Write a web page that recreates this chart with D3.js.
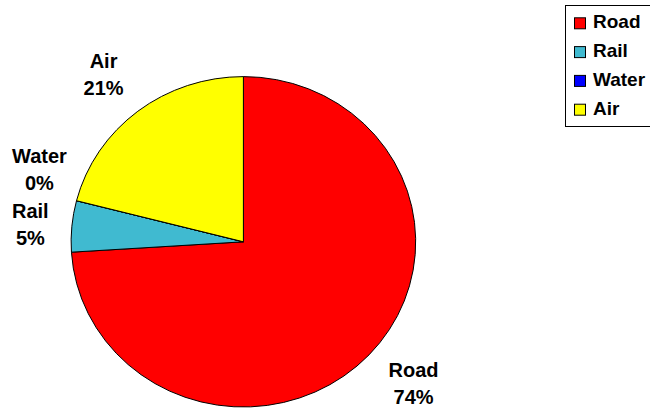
<!DOCTYPE html>
<html>
<head>
<meta charset="utf-8">
<script src="https://cdn.jsdelivr.net/npm/d3@7"></script>
<style>
  html, body { margin: 0; padding: 0; background: #fff; }
  svg { display: block; }
  text { font-family: "Liberation Sans", Arial, sans-serif; font-weight: bold; fill: #000; }
</style>
</head>
<body>
<svg id="chart" width="650" height="409"></svg>
<script>
// Share of freight by mode (percent)
const categories = ["Road", "Rail", "Water", "Air"];
const shares = [74, 5, 0, 21];
const colors = ["#FF0000", "#40BAD0", "#0000FF", "#FFFF00"];

const W = 650, H = 409;
const svg = d3.select("#chart");

// Pie geometry: slightly wider than tall
const cx = 243.4, cy = 241.8, rx = 172.3, ry = 165.2;

const pie = d3.pie().sort(null).value(d => d.value);
const arcs = pie(categories.map((c, i) => ({ name: c, value: shares[i], color: colors[i] })));
const arc = d3.arc().innerRadius(0).outerRadius(rx);

const pieG = svg.append("g")
  .attr("transform", `translate(${cx},${cy}) scale(1,${ry / rx})`);

pieG.selectAll("path")
  .data(arcs)
  .join("path")
  .attr("d", arc)
  .attr("fill", d => d.data.color)
  .attr("stroke", "#000")
  .attr("stroke-width", 1)
  .attr("vector-effect", "non-scaling-stroke")
  .attr("stroke-linejoin", "round");

// Data labels placed just outside the rim, along each slice's mid-angle
const fmt = v => d3.format(".0f")(v) + "%";
const labelFont = 20, lineGap = 27, capH = 14, edge = 12;
const clamp = v => Math.max(-1, Math.min(1, v));

const labelG = svg.append("g");
const labels = arcs.map(d => {
  const g = labelG.append("g");
  const t1 = g.append("text").attr("text-anchor", "middle").attr("font-size", labelFont).text(d.data.name);
  const t2 = g.append("text").attr("text-anchor", "middle").attr("font-size", labelFont).text(fmt(d.data.value));
  const w = Math.max(t1.node().getComputedTextLength(), t2.node().getComputedTextLength());
  const h = capH + lineGap;
  const a = (d.startAngle + d.endAngle) / 2;
  const s = Math.sin(a), c = Math.cos(a);
  const f = 1.1;
  const px = cx + rx * f * s, py = cy - ry * f * c;
  const lx = px + (w / 2 + 7) * clamp(s / 0.7);
  const ly = py + (h / 2) * clamp(-c / 0.7) + (Math.abs(c) > 0.3 ? -3 : 3);
  return { g, t1, t2, w, h, x: lx, y: ly, side: s < 0 ? -1 : 1 };
});

// Keep labels on the same side from overlapping: push upward when needed
[-1, 1].forEach(side => {
  const group = labels.filter(l => l.side === side).sort((a, b) => b.y - a.y);
  for (let i = 1; i < group.length; i++) {
    const lower = group[i - 1], cur = group[i];
    const minGap = (lower.h + cur.h) / 2 + 14;
    if (lower.y - cur.y < minGap) cur.y = lower.y - minGap;
  }
});

// Keep every label inside the drawing area
labels.forEach(l => {
  l.x = Math.max(l.w / 2 + edge, Math.min(W - l.w / 2 - edge, l.x));
  const top = l.y - l.h / 2;
  l.t1.attr("x", l.x).attr("y", top + capH);
  l.t2.attr("x", l.x).attr("y", top + capH + lineGap);
});

// Legend
const legend = svg.append("g");
const lgX = 565, lgY = 5, lgH = 121, rowH = 28.8;
legend.append("rect")
  .attr("x", lgX + 0.5).attr("y", lgY + 0.5)
  .attr("width", 120).attr("height", lgH)
  .attr("fill", "#fff").attr("stroke", "#000").attr("stroke-width", 1);

const rows = legend.selectAll("g.item")
  .data(categories.map((c, i) => ({ name: c, color: colors[i] })))
  .join("g")
  .attr("class", "item")
  .attr("transform", (d, i) => `translate(${lgX},${lgY + 23.3 + i * rowH})`);

rows.append("rect")
  .attr("x", 9.5).attr("y", -10.5)
  .attr("width", 11).attr("height", 11)
  .attr("fill", d => d.color)
  .attr("stroke", "#000").attr("stroke-width", 1);

rows.append("text")
  .attr("x", 28).attr("y", 0)
  .attr("font-size", 19)
  .text(d => d.name);
</script>
</body>
</html>
